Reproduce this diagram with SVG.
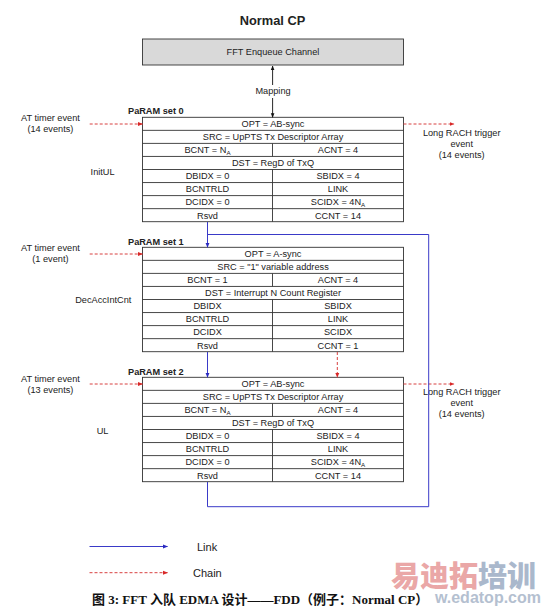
<svg xmlns="http://www.w3.org/2000/svg" width="545" height="613" viewBox="0 0 545 613">
<defs>
<style>
text{font-family:"Liberation Sans",Arial,sans-serif;fill:#222;}
.t{font-size:9.2px;text-anchor:middle;}
.lb{font-size:9.2px;text-anchor:middle;}
.ps{font-size:9.2px;font-weight:bold;}
.sub{font-size:6.2px;}
.cell{fill:#fff;stroke:#333;stroke-width:0.9;}
.grid{stroke:#333;stroke-width:0.9;fill:none;}
.link{stroke:#3a3ac8;stroke-width:1;fill:none;}
.chain{stroke:#d84040;stroke-width:1;fill:none;stroke-dasharray:3,2;}
</style>
<marker id="ab" viewBox="0 0 10 10" refX="9" refY="5" markerWidth="5" markerHeight="5" orient="auto"><path d="M0,1 L10,5 L0,9 z" fill="#2a2ac0"/></marker>
<marker id="ar" viewBox="0 0 10 10" refX="9" refY="5" markerWidth="5" markerHeight="5" orient="auto"><path d="M0,1 L10,5 L0,9 z" fill="#d82828"/></marker>
<marker id="ak" viewBox="0 0 10 10" refX="9" refY="5" markerWidth="5" markerHeight="5" orient="auto"><path d="M0,1 L10,5 L0,9 z" fill="#111"/></marker>
</defs>
<rect width="545" height="613" fill="#fff"/>

<text x="272.5" y="24.5" style="font-size:12.8px;font-weight:bold;text-anchor:middle">Normal CP</text>

<g id="fft">
<rect x="142.5" y="39" width="261" height="26" fill="#d9d9d9" stroke="#333" stroke-width="0.9"/>
<text class="t" x="273" y="55.3">FFT Enqueue Channel</text>
</g>

<g id="set0">
<text class="ps" x="128" y="114">PaRAM set 0</text>
<rect class="cell" x="142.5" y="117.3" width="261" height="104.4"/>
<path class="grid" d="M142.5,130.35H403.5M142.5,143.4H403.5M142.5,156.45H403.5M142.5,169.5H403.5M142.5,182.55H403.5M142.5,195.6H403.5M142.5,208.65H403.5M272.5,143.4V156.45M272.5,169.5V221.7"/>
<text class="t" x="273" y="127.1">OPT = AB-sync</text>
<text class="t" x="273" y="140.2">SRC = UpPTS Tx Descriptor Array</text>
<text class="t" x="207.5" y="153.2">BCNT = N<tspan class="sub" dy="1.6">A</tspan></text>
<text class="t" x="338" y="153.2">ACNT = 4</text>
<text class="t" x="273" y="166.3">DST = RegD of TxQ</text>
<text class="t" x="207.5" y="179.3">DBIDX = 0</text>
<text class="t" x="338" y="179.3">SBIDX = 4</text>
<text class="t" x="207.5" y="192.4">BCNTRLD</text>
<text class="t" x="338" y="192.4">LINK</text>
<text class="t" x="207.5" y="205.4">DCIDX = 0</text>
<text class="t" x="338" y="205.4">SCIDX = 4N<tspan class="sub" dy="1.6">A</tspan></text>
<text class="t" x="207.5" y="218.5">Rsvd</text>
<text class="t" x="338" y="218.5">CCNT = 14</text>
<text class="lb" x="102.6" y="174.5">InitUL</text>
<text class="lb" x="50.4" y="121">AT timer event</text>
<text class="lb" x="50.4" y="132.3">(14 events)</text>
<text class="lb" x="461.7" y="136.3">Long RACH trigger</text>
<text class="lb" x="461.7" y="146.8">event</text>
<text class="lb" x="461.7" y="157.8">(14 events)</text>
</g>

<g id="set1">
<text class="ps" x="128" y="244.5">PaRAM set 1</text>
<rect class="cell" x="142.5" y="247.3" width="261" height="104.4"/>
<path class="grid" d="M142.5,260.35H403.5M142.5,273.4H403.5M142.5,286.45H403.5M142.5,299.5H403.5M142.5,312.55H403.5M142.5,325.6H403.5M142.5,338.65H403.5M272.5,273.4V286.45M272.5,299.5V351.7"/>
<text class="t" x="273" y="257.1">OPT = A-sync</text>
<text class="t" x="273" y="270.2">SRC = "1" variable address</text>
<text class="t" x="207.5" y="283.2">BCNT = 1</text>
<text class="t" x="338" y="283.2">ACNT = 4</text>
<text class="t" x="273" y="296.3">DST = Interrupt N Count Register</text>
<text class="t" x="207.5" y="309.3">DBIDX</text>
<text class="t" x="338" y="309.3">SBIDX</text>
<text class="t" x="207.5" y="322.4">BCNTRLD</text>
<text class="t" x="338" y="322.4">LINK</text>
<text class="t" x="207.5" y="335.4">DCIDX</text>
<text class="t" x="338" y="335.4">SCIDX</text>
<text class="t" x="207.5" y="348.5">Rsvd</text>
<text class="t" x="338" y="348.5">CCNT = 1</text>
<text class="lb" x="103.3" y="302.5">DecAccIntCnt</text>
<text class="lb" x="50.4" y="251">AT timer event</text>
<text class="lb" x="50.4" y="262.3">(1 event)</text>
</g>

<g id="set2">
<text class="ps" x="128" y="374.5">PaRAM set 2</text>
<rect class="cell" x="142.5" y="377.3" width="261" height="104.4"/>
<path class="grid" d="M142.5,390.35H403.5M142.5,403.4H403.5M142.5,416.45H403.5M142.5,429.5H403.5M142.5,442.55H403.5M142.5,455.6H403.5M142.5,468.65H403.5M272.5,403.4V416.45M272.5,429.5V481.7"/>
<text class="t" x="273" y="387.1">OPT = AB-sync</text>
<text class="t" x="273" y="400.2">SRC = UpPTS Tx Descriptor Array</text>
<text class="t" x="207.5" y="413.2">BCNT = N<tspan class="sub" dy="1.6">A</tspan></text>
<text class="t" x="338" y="413.2">ACNT = 4</text>
<text class="t" x="273" y="426.3">DST = RegD of TxQ</text>
<text class="t" x="207.5" y="439.3">DBIDX = 0</text>
<text class="t" x="338" y="439.3">SBIDX = 4</text>
<text class="t" x="207.5" y="452.4">BCNTRLD</text>
<text class="t" x="338" y="452.4">LINK</text>
<text class="t" x="207.5" y="465.4">DCIDX = 0</text>
<text class="t" x="338" y="465.4">SCIDX = 4N<tspan class="sub" dy="1.6">A</tspan></text>
<text class="t" x="207.5" y="478.5">Rsvd</text>
<text class="t" x="338" y="478.5">CCNT = 14</text>
<text class="lb" x="102.6" y="433.5">UL</text>
<text class="lb" x="50.4" y="381.5">AT timer event</text>
<text class="lb" x="50.4" y="392.8">(13 events)</text>
<text class="lb" x="461.7" y="395.3">Long RACH trigger</text>
<text class="lb" x="461.7" y="406.3">event</text>
<text class="lb" x="461.7" y="417.3">(14 events)</text>
</g>

<g id="connectors">
<line x1="272.6" y1="85" x2="272.6" y2="66" stroke="#111" stroke-width="0.9" marker-end="url(#ak)"/>
<line x1="272.6" y1="98" x2="272.6" y2="117.3" stroke="#111" stroke-width="0.9" marker-end="url(#ak)"/>
<text class="lb" x="273" y="94.3">Mapping</text>
<line class="chain" x1="89.7" y1="124" x2="142.5" y2="124" marker-end="url(#ar)"/>
<line class="chain" x1="403.5" y1="124" x2="454" y2="124" marker-end="url(#ar)"/>
<line class="chain" x1="89.7" y1="254" x2="142.5" y2="254" marker-end="url(#ar)"/>
<line class="chain" x1="89.7" y1="384" x2="142.5" y2="384" marker-end="url(#ar)"/>
<line class="chain" x1="403.5" y1="384" x2="454" y2="384" marker-end="url(#ar)"/>
<line class="chain" x1="337.3" y1="352" x2="337.3" y2="377.3" marker-end="url(#ar)"/>
<line class="link" x1="207.5" y1="222" x2="207.5" y2="247.3" marker-end="url(#ab)"/>
<line class="link" x1="207.5" y1="352" x2="207.5" y2="377.3" marker-end="url(#ab)"/>
<path class="link" d="M207.5,482V506.7H428.7V234.5H207.5"/>
</g>

<g id="legend">
<line class="link" x1="89.5" y1="546.5" x2="167.5" y2="546.5" marker-end="url(#ab)"/>
<text x="197" y="550.5" style="font-size:11px">Link</text>
<line class="chain" x1="89.5" y1="572.7" x2="167.5" y2="572.7" marker-end="url(#ar)"/>
<text x="193" y="576.7" style="font-size:11px">Chain</text>
</g>

<g id="watermark">
<text x="391" y="587" style="font-family:'Noto Sans CJK SC',sans-serif;font-size:29px;font-weight:900;fill:#eaa7a7">易迪拓</text>
<text x="478" y="587" style="font-family:'Noto Sans CJK SC',sans-serif;font-size:29px;font-weight:900;fill:#aab8cc">培训</text>
<text x="541" y="603" style="font-size:16px;font-weight:bold;fill:#b4c0d0;text-anchor:end">w.edatop.com</text>
</g>

<text x="92" y="603.5" style="font-family:'Liberation Serif','Noto Sans CJK SC',serif;font-size:13px;font-weight:bold;fill:#111">图 3: FFT 入队 EDMA 设计——FDD（例子：Normal CP）</text>
</svg>
